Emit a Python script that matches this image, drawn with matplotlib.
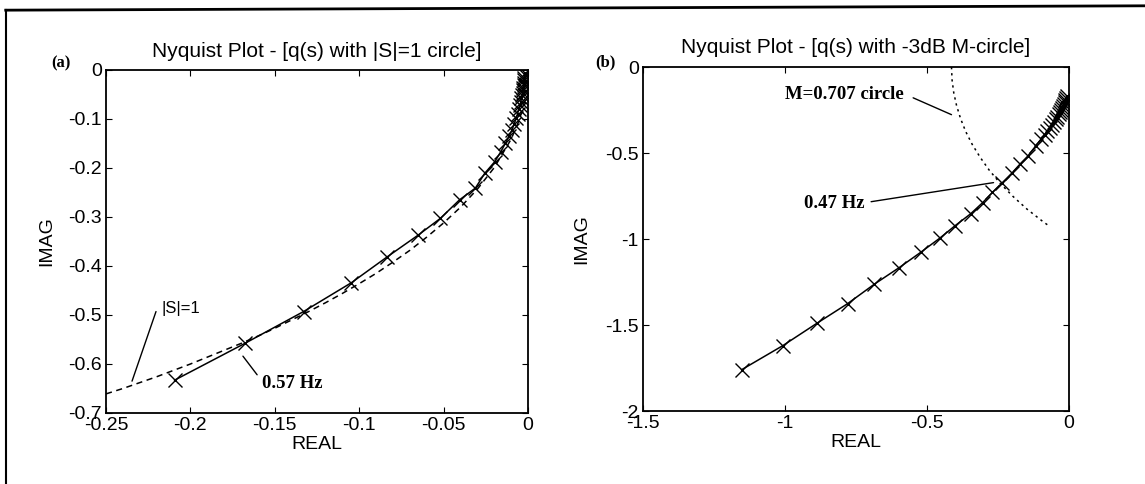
import matplotlib
matplotlib.use("Agg")
import matplotlib.pyplot as plt
from matplotlib.lines import Line2D

# ---- panel (a): q(s) nyquist points with |S|=1 circle ----
qa_re = [-0.2094, -0.1678, -0.1330, -0.1046, -0.0833, -0.0651, -0.0520, -0.0406,
         -0.0312, -0.0257, -0.0197, -0.0162, -0.0135, -0.0112, -0.0095, -0.0082,
         -0.0071, -0.0062, -0.0054, -0.0048, -0.0043, -0.0039, -0.0035, -0.0032,
         -0.0030, -0.0028, -0.0026, -0.0024, -0.0023, -0.0022, -0.0021, -0.0020]
qa_im = [-0.633, -0.558, -0.493, -0.434, -0.381, -0.337, -0.303, -0.265,
         -0.241, -0.211, -0.187, -0.167, -0.150, -0.135, -0.122, -0.110,
         -0.099, -0.089, -0.080, -0.072, -0.065, -0.058, -0.052, -0.046,
         -0.041, -0.036, -0.031, -0.026, -0.021, -0.016, -0.011, -0.006]
s1_re = [-0.25, -0.24, -0.23, -0.22, -0.21, -0.20, -0.19, -0.18, -0.17, -0.16,
         -0.15, -0.14, -0.13, -0.12, -0.11, -0.10, -0.09, -0.08, -0.07, -0.06,
         -0.05, -0.04, -0.03, -0.02, -0.01, -0.005, -0.002]
s1_im = [-0.661, -0.650, -0.638, -0.626, -0.613, -0.600, -0.586, -0.572, -0.558,
         -0.543, -0.527, -0.510, -0.493, -0.475, -0.456, -0.436, -0.415, -0.392,
         -0.368, -0.341, -0.312, -0.280, -0.243, -0.199, -0.141, -0.100, -0.063]

# ---- panel (b): q(s) nyquist points with M=0.707 circle ----
qb_re = [-1.153, -1.008, -0.887, -0.780, -0.686, -0.598, -0.523, -0.456, -0.401,
         -0.347, -0.304, -0.270, -0.236, -0.201, -0.172, -0.146, -0.118, -0.098,
         -0.086, -0.076, -0.067, -0.059, -0.052, -0.046, -0.041, -0.036, -0.032,
         -0.028, -0.025, -0.022, -0.019, -0.016, -0.013, -0.011, -0.009]
qb_im = [-1.760, -1.620, -1.489, -1.376, -1.263, -1.166, -1.078, -0.996, -0.922,
         -0.854, -0.788, -0.729, -0.674, -0.616, -0.563, -0.519, -0.460, -0.417,
         -0.395, -0.373, -0.353, -0.335, -0.318, -0.302, -0.288, -0.274, -0.261,
         -0.249, -0.238, -0.227, -0.216, -0.205, -0.194, -0.182, -0.168]
mc_re = [-0.414, -0.412, -0.406, -0.396, -0.382, -0.364, -0.341, -0.313, -0.281,
         -0.243, -0.199, -0.149, -0.091, -0.067]
mc_im = [0.000, -0.075, -0.150, -0.225, -0.300, -0.375, -0.450, -0.525, -0.600,
         -0.675, -0.750, -0.825, -0.900, -0.928]

xt_a = [-0.25, -0.2, -0.15, -0.1, -0.05, 0]
yt_a = [0, -0.1, -0.2, -0.3, -0.4, -0.5, -0.6, -0.7]
xt_b = [-1.5, -1, -0.5, 0]
yt_b = [0, -0.5, -1, -1.5, -2]

plt.rcParams['font.family'] = ['Liberation Sans', 'DejaVu Sans']
fig = plt.figure(figsize=(11.45, 4.84), dpi=100)

def style(ax, xt, yt, ylab_x):
    ax.set_xticks(xt)
    ax.set_yticks(yt)
    ax.set_xticklabels([('%g' % v) for v in xt])
    ax.set_yticklabels([('%g' % v) for v in yt])
    ax.tick_params(direction='in', top=True, right=True, length=4, labelsize=14, pad=3)
    ax.set_xlabel('REAL', fontsize=14, labelpad=1)
    ax.set_ylabel('IMAG', fontsize=14)
    ax.yaxis.set_label_coords(ylab_x, 0.5)
    for sp in ax.spines.values():
        sp.set_linewidth(1.3)

serif = dict(family='Liberation Serif', fontweight='bold', fontsize=13.5)
lead = dict(arrowstyle='-', lw=1, color='k', shrinkA=0, shrinkB=0)

ax1 = fig.add_axes([0.0926, 0.1467, 0.3686, 0.7087])
ax1.plot(s1_re, s1_im, 'k--', lw=1.1, dashes=(4, 3))
ax1.plot(qa_re, qa_im, 'k-x', lw=1.1, ms=10, mew=1.0)
ax1.set_xlim(-0.25, 0)
ax1.set_ylim(-0.7, 0)
style(ax1, xt_a, yt_a, -0.12)
ax1.set_title('Nyquist Plot - [q(s) with |S|=1 circle]', fontsize=15, pad=9)
ax1.text(-0.2171, -0.486, '|S|=1', fontsize=12, va='center', ha='left')
ax1.annotate('', xy=(-0.2346, -0.635), xytext=(-0.2204, -0.493), arrowprops=lead)
ax1.text(-0.1579, -0.639, '0.57 Hz', va='center', ha='left', **serif)
ax1.annotate('', xy=(-0.1689, -0.584), xytext=(-0.1605, -0.622), arrowprops=lead)
fig.text(0.0533, 0.870, '(a)', family='Liberation Serif', fontweight='bold',
         fontsize=12, ha='center', va='center')

ax2 = fig.add_axes([0.5616, 0.1508, 0.3721, 0.7107])
ax2.plot(mc_re, mc_im, 'k:', lw=1.1, dashes=(1.5, 2.5))
ax2.plot(qb_re, qb_im, 'k-x', lw=1.1, ms=10, mew=1.0)
ax2.set_xlim(-1.5, 0)
ax2.set_ylim(-2, 0)
style(ax2, xt_b, yt_b, -0.125)
ax2.set_title('Nyquist Plot - [q(s) with -3dB M-circle]', fontsize=15, pad=10)
ax2.text(-0.581, -0.160, 'M=0.707 circle', va='center', ha='right', **serif)
ax2.annotate('', xy=(-0.414, -0.277), xytext=(-0.549, -0.179), arrowprops=lead)
ax2.text(-0.722, -0.793, '0.47 Hz', va='center', ha='right', **serif)
ax2.annotate('', xy=(-0.266, -0.672), xytext=(-0.697, -0.783), arrowprops=lead)
fig.text(0.529, 0.872, '(b)', family='Liberation Serif', fontweight='bold',
         fontsize=12, ha='center', va='center')

# outer frame (top and left edges of the scanned box)
fig.add_artist(Line2D([0.005, 1.0], [0.979, 0.988], transform=fig.transFigure, color='k', lw=2))
fig.add_artist(Line2D([0.0052, 0.0052], [0.0, 0.979], transform=fig.transFigure, color='k', lw=1.5))

fig.savefig('out.png', dpi=100)
